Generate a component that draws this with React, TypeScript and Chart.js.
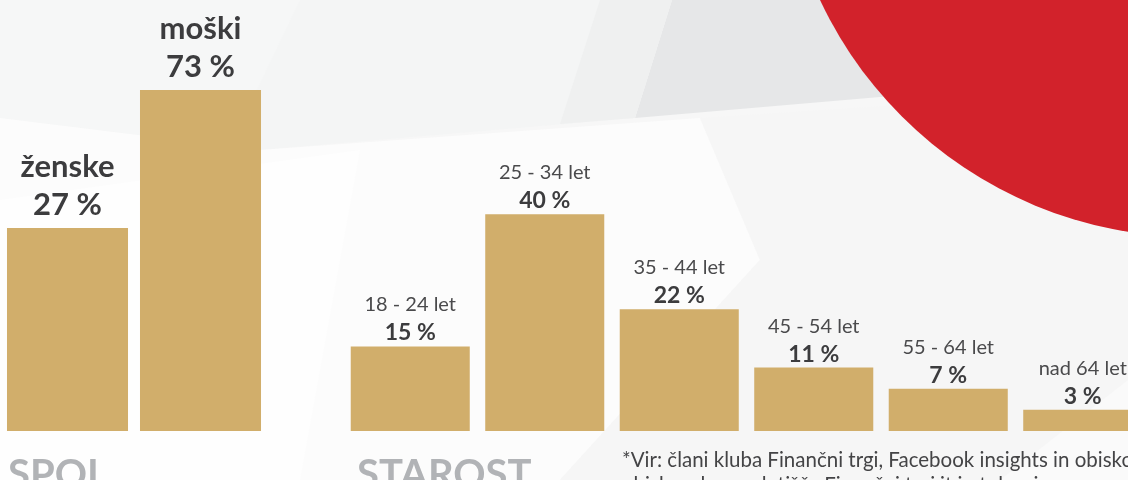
import React, { useEffect, useRef } from "react";
import { Chart, registerables } from "chart.js";

Chart.register(...registerables);

// ---- data ----
const genderLabels = ["ženske", "moški"];
const genderValues = [27, 73];
const ageLabels = ["18 - 24 let", "25 - 34 let", "35 - 44 let", "45 - 54 let", "55 - 64 let", "nad 64 let"];
const ageValues = [15, 40, 22, 11, 7, 3];
const groupTitles = ["SPOL", "STAROST"];
const footnoteLines = [
  "*Vir: člani kluba Finančni trgi, Facebook insights in obiskovalci",
  "obiskovalcev spletišča Finančni trgi.it in tolar.si",
];

const BAR = "#d1ae6b";
const DARK = "#3c3c3e";
const MID = "#4a4a4c";
const TITLE = "#b1b3b6";
const RED = "#d2222b";
const FONT = "'Source Sans Pro', Lato, 'Noto Sans', sans-serif";

const W = 1128;
const H = 480;
const AGE_W = 1160;

const backgroundPlugin = {
  id: "bgDeco",
  beforeDraw(chart: any) {
    const ctx = chart.ctx as CanvasRenderingContext2D;
    ctx.save();
    ctx.fillStyle = "#f7f7f7";
    ctx.fillRect(0, 0, chart.width, chart.height);
    const poly = (pts: number[][], color: string) => {
      ctx.beginPath();
      ctx.moveTo(pts[0][0], pts[0][1]);
      for (let i = 1; i < pts.length; i++) ctx.lineTo(pts[i][0], pts[i][1]);
      ctx.closePath();
      ctx.fillStyle = color;
      ctx.fill();
    };
    // upper band
    poly([[0, 0], [672, 0], [635, 118], [260, 150], [0, 118]], "#f4f5f5");
    poly([[0, 0], [300, 0], [230, 146], [0, 118]], "#f6f7f7");
    // near-white region around the bars
    poly([[0, 118], [260, 150], [700, 118], [760, 260], [560, 480], [0, 480]], "#fcfcfc");
    poly([[0, 200], [360, 150], [300, 480], [0, 480]], "#fefefe");
    // darker top polygon
    poly([[672, 0], [1128, 0], [1128, 90], [880, 97], [635, 118]], "#e6e7e8");
    poly([[600, 0], [672, 0], [635, 118], [560, 124]], "#eff0f0");
    // right-lower light gray
    poly([[700, 118], [1128, 90], [1128, 480], [560, 480], [760, 260]], "#f6f6f6");
    poly([[1000, 480], [1128, 380], [1128, 480]], "#fafafa");
    // red circle
    ctx.beginPath();
    ctx.arc(1193, -175, 412, 0, Math.PI * 2);
    ctx.fillStyle = RED;
    ctx.fill();
    ctx.restore();
  },
};

const barLabelPlugin = {
  id: "barLabels",
  afterDatasetsDraw(chart: any, _args: any, opts: any) {
    const ctx = chart.ctx as CanvasRenderingContext2D;
    const meta = chart.getDatasetMeta(0);
    const labels = chart.data.labels as string[];
    const values = chart.data.datasets[0].data as number[];
    ctx.save();
    ctx.textAlign = "center";
    ctx.textBaseline = "alphabetic";
    meta.data.forEach((bar: any, i: number) => {
      ctx.font = opts.valueFont;
      ctx.fillStyle = DARK;
      ctx.fillText(values[i] + " %", bar.x, bar.y - opts.valueGap);
      ctx.font = opts.nameFont;
      ctx.fillStyle = opts.nameColor;
      ctx.fillText(labels[i], bar.x, bar.y - opts.nameGap);
    });
    ctx.restore();
  },
};

const textPlugin = {
  id: "extraText",
  afterDraw(chart: any, _args: any, opts: any) {
    const ctx = chart.ctx as CanvasRenderingContext2D;
    ctx.save();
    ctx.textAlign = "left";
    ctx.textBaseline = "alphabetic";
    ctx.font = `bold 40px ${FONT}`;
    ctx.fillStyle = TITLE;
    ctx.fillText(opts.title, opts.titleX, 488);
    if (opts.footnote) {
      ctx.font = `20.5px ${FONT}`;
      ctx.fillStyle = "#444446";
      opts.footnote.forEach((line: string, i: number) => {
        ctx.fillText(line, 622, 467 + i * 25);
      });
    }
    ctx.restore();
  },
};

function baseOptions(padding: any, min: number, max: number) {
  return {
    animation: false as const,
    responsive: false,
    maintainAspectRatio: false,
    layout: { padding },
    scales: {
      x: { display: false, grid: { display: false } },
      y: { display: false, min, max, grid: { display: false } },
    },
  };
}

export default function App() {
  const gRef = useRef<HTMLCanvasElement>(null);
  const aRef = useRef<HTMLCanvasElement>(null);

  useEffect(() => {
    document.body.style.margin = "0";
    const gMin = -40.67;
    const aMin = -1;
    const g = new Chart(gRef.current!, {
      type: "bar",
      data: {
        labels: genderLabels,
        datasets: [
          {
            data: genderValues,
            backgroundColor: BAR,
            borderWidth: 0,
            base: gMin,
            categoryPercentage: 1,
            barPercentage: 0.91,
          } as any,
        ],
      },
      options: {
        ...baseOptions({ left: 1, right: W - 267, top: 0, bottom: H - 431 }, gMin, 103),
        plugins: {
          legend: { display: false },
          tooltip: { enabled: false },
          barLabels: {
            valueFont: `bold 31px ${FONT}`,
            nameFont: `bold 31px ${FONT}`,
            nameColor: DARK,
            valueGap: 13,
            nameGap: 51,
          },
          extraText: { title: groupTitles[0], titleX: 8 },
        } as any,
      },
      plugins: [backgroundPlugin, barLabelPlugin, textPlugin],
    });
    const a = new Chart(aRef.current!, {
      type: "bar",
      data: {
        labels: ageLabels,
        datasets: [
          {
            data: ageValues,
            backgroundColor: BAR,
            borderWidth: 0,
            base: aMin,
            categoryPercentage: 1,
            barPercentage: 0.885,
          } as any,
        ],
      },
      options: {
        ...baseOptions({ left: 343, right: AGE_W - 1150, top: 0, bottom: H - 431 }, aMin, 80.5),
        plugins: {
          legend: { display: false },
          tooltip: { enabled: false },
          barLabels: {
            valueFont: `bold 23px ${FONT}`,
            nameFont: `20px ${FONT}`,
            nameColor: MID,
            valueGap: 6,
            nameGap: 35,
          },
          extraText: { title: groupTitles[1], titleX: 357, footnote: footnoteLines },
        } as any,
      },
      plugins: [barLabelPlugin, textPlugin],
    });
    return () => {
      g.destroy();
      a.destroy();
    };
  }, []);

  return (
    <div style={{ position: "fixed", left: 0, top: 0, width: W, height: H, overflow: "hidden" }}>
      <canvas ref={gRef} width={W} height={H} style={{ position: "absolute", left: 0, top: 0 }} />
      <canvas ref={aRef} width={AGE_W} height={H} style={{ position: "absolute", left: 0, top: 0 }} />
    </div>
  );
}
